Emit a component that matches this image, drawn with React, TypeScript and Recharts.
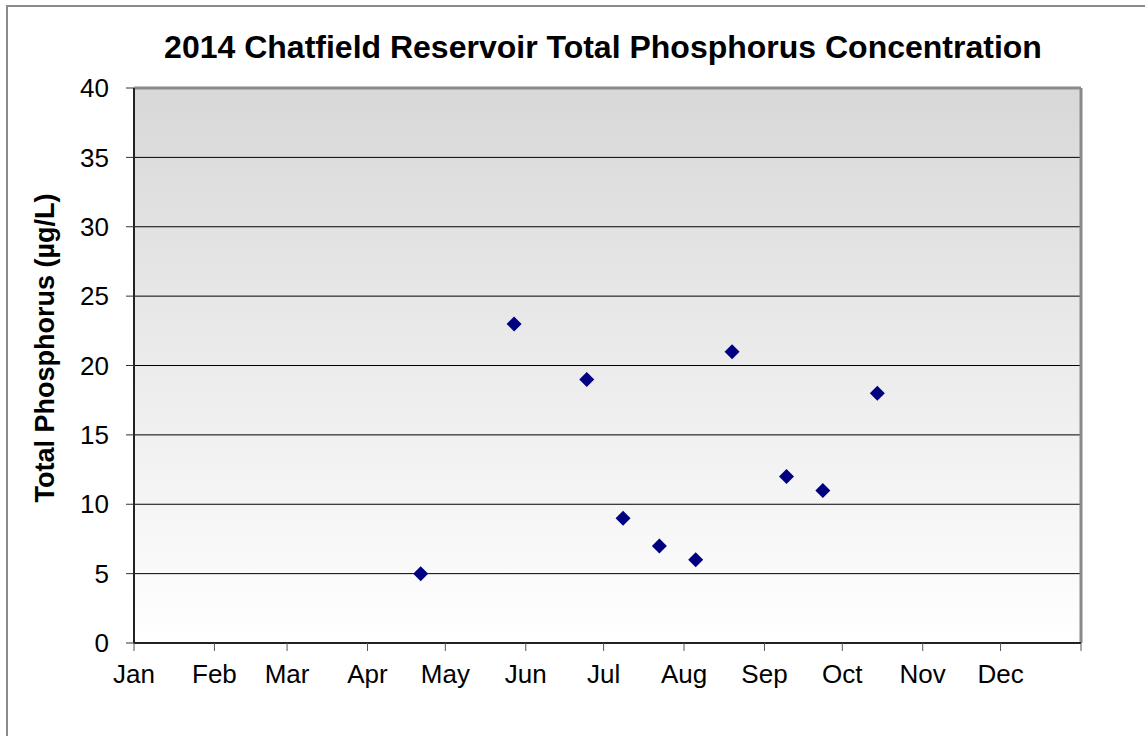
import {
  CartesianGrid,
  ReferenceLine,
  Scatter,
  ScatterChart,
  XAxis,
  YAxis,
} from "recharts";

const sampleDates = [
  "2014-04-21",
  "2014-05-27",
  "2014-06-24",
  "2014-07-08",
  "2014-07-22",
  "2014-08-05",
  "2014-08-19",
  "2014-09-09",
  "2014-09-23",
  "2014-10-14",
];
const phosphorus = [5, 23, 19, 9, 7, 6, 21, 12, 11, 18];

const monthLabels = ["Jan", "Feb", "Mar", "Apr", "May", "Jun", "Jul", "Aug", "Sep", "Oct", "Nov", "Dec", ""];
const yTicks = [0, 5, 10, 15, 20, 25, 30, 35, 40];

const font = "'Liberation Sans', Arial, sans-serif";

// day of year, 0 = Jan 1
const dayOfYear = (iso: string) => {
  const [y, m, d] = iso.split("-").map(Number);
  return (Date.UTC(y, m - 1, d) - Date.UTC(y, 0, 1)) / 86400000;
};

const ticksX = monthLabels.map((_, i) =>
  i === 12 ? 365 : dayOfYear(`2014-${String(i + 1).padStart(2, "0")}-01`)
);

const data = sampleDates.map((date, i) => ({ day: dayOfYear(date) + 0.5, tp: phosphorus[i] }));

function Diamond(props: any) {
  const { cx, cy } = props;
  const r = 7.5;
  return (
    <polygon
      points={`${cx},${cy - r} ${cx + r},${cy} ${cx},${cy + r} ${cx - r},${cy}`}
      fill="#000080"
    />
  );
}

export default function App() {
  return (
    <div style={{ position: "absolute", left: 0, top: 0, width: 1145, height: 736, overflow: "hidden", background: "#fff" }}>
      <div
        style={{
          position: "absolute",
          left: 6,
          top: 5,
          width: 1300,
          height: 900,
          borderLeft: "2px solid #8a8a8a",
          borderTop: "2px solid #8a8a8a",
        }}
      />
      <div
        style={{
          position: "absolute",
          left: 0,
          width: 1206,
          top: 31,
          textAlign: "center",
          fontFamily: font,
          fontWeight: 700,
          fontSize: 32,
          lineHeight: "32px",
          color: "#000",
        }}
      >
        2014 Chatfield Reservoir Total Phosphorus Concentration
      </div>
      <div style={{ position: "absolute", left: 0, top: 0 }}>
        <ScatterChart width={1145} height={736} margin={{ top: 88, right: 64, bottom: 53, left: 0 }}>
          <defs>
            <linearGradient id="plotBg" x1="0" y1="0" x2="0" y2="1">
              <stop offset="0%" stopColor="#d8d8d8" />
              <stop offset="100%" stopColor="#ffffff" />
            </linearGradient>
          </defs>
          <CartesianGrid vertical={false} stroke="#000" strokeWidth={1} fill="url(#plotBg)" fillOpacity={1} />
          <XAxis
            type="number"
            dataKey="day"
            domain={[0, 365]}
            ticks={ticksX}
            interval={0}
            tickFormatter={(v: number) => monthLabels[ticksX.indexOf(v)] ?? ""}
            height={40}
            tickSize={8}
            tickMargin={14}
            axisLine={{ stroke: "#222", strokeWidth: 2 }}
            tickLine={{ stroke: "#555" }}
            tick={{ fill: "#000", fontSize: 26, fontFamily: font }}
          />
          <YAxis
            type="number"
            dataKey="tp"
            domain={[0, 40]}
            ticks={yTicks}
            interval={0}
            width={134}
            tickSize={8}
            tickMargin={17}
            axisLine={{ stroke: "#222", strokeWidth: 2 }}
            tickLine={{ stroke: "#333" }}
            tick={{ fill: "#000", fontSize: 26, fontFamily: font }}
            label={{
              content: () => (
                <text
                  x={54}
                  y={348}
                  transform="rotate(-90, 54, 348)"
                  textAnchor="middle"
                  fontFamily={font}
                  fontWeight={700}
                  fontSize={27}
                  fill="#000"
                >
                  Total Phosphorus (µg/L)
                </text>
              ),
            }}
          />
          <ReferenceLine y={40} stroke="#8a8a8a" strokeWidth={3} />
          <ReferenceLine x={365} stroke="#8a8a8a" strokeWidth={3} />
          <Scatter data={data} shape={<Diamond />} isAnimationActive={false} />
        </ScatterChart>
      </div>
    </div>
  );
}
